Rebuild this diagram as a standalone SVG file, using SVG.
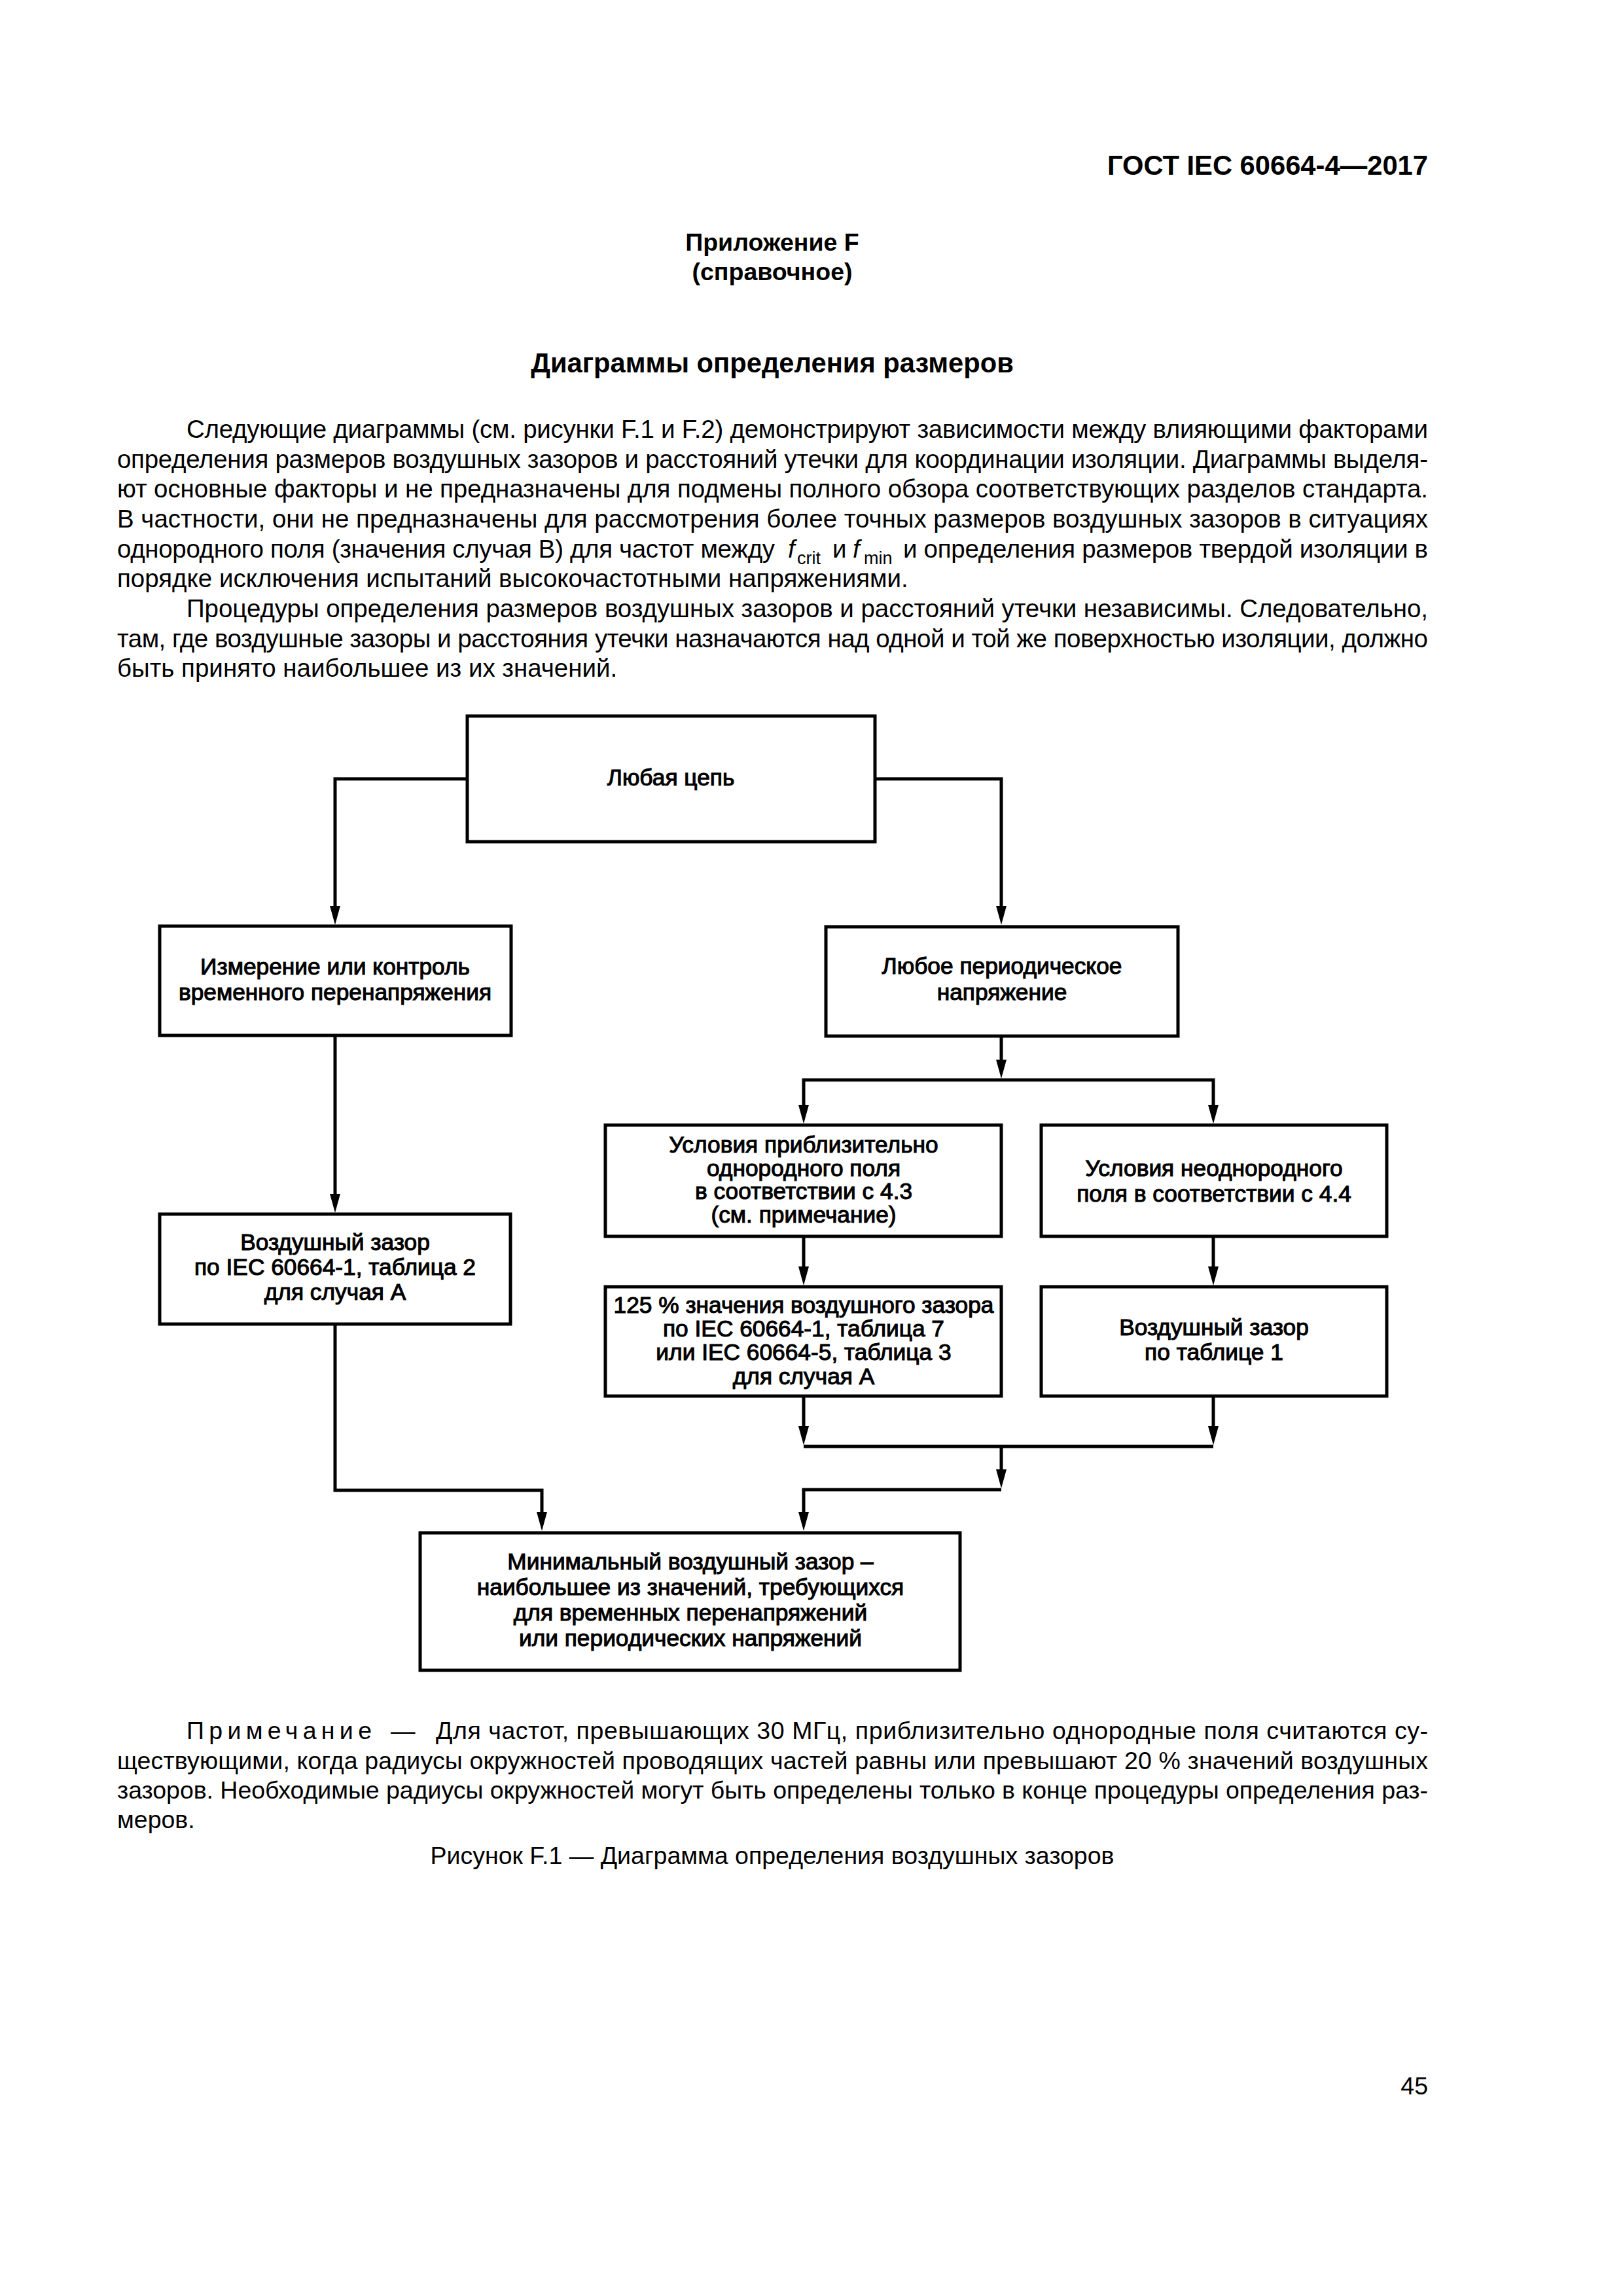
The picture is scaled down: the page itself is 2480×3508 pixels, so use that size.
<svg xmlns="http://www.w3.org/2000/svg" width="2480" height="3508" viewBox="0 0 2480 3508">
<style>
text{font-family:"Liberation Sans",Arial,sans-serif;fill:#000}
.hd{font-size:41.7px;font-weight:bold}
.ap{font-size:37.5px;font-weight:bold;text-anchor:middle}
.ti{font-size:41.7px;font-weight:bold;text-anchor:middle}
.bd{font-size:38.5px}
.sb{font-size:27px}
.nt{font-size:37.5px}
.bx{font-size:35.3px;text-anchor:middle;stroke:#000;stroke-width:1.1}
.box{fill:#fff;stroke:#000;stroke-width:5}
.ln{fill:none;stroke:#000;stroke-width:5}
.ah{fill:#000}
</style>
<rect width="2480" height="3508" fill="#fff"/>
<text class="hd" x="2182" y="267" text-anchor="end">ГОСТ IEC 60664-4—2017</text>
<text class="ap" x="1180" y="383">Приложение F</text>
<text class="ap" x="1180" y="428">(справочное)</text>
<text class="ti" x="1180" y="569">Диаграммы определения размеров</text>
<g id="body">
<text class="bd" x="285" y="669" textLength="1897" lengthAdjust="spacing">Следующие диаграммы (см. рисунки F.1 и F.2) демонстрируют зависимости между влияющими факторами</text>
<text class="bd" x="179" y="715" textLength="2003" lengthAdjust="spacing">определения размеров воздушных зазоров и расстояний утечки для координации изоляции. Диаграммы выделя-</text>
<text class="bd" x="179" y="760" textLength="2003" lengthAdjust="spacing">ют основные факторы и не предназначены для подмены полного обзора соответствующих разделов стандарта.</text>
<text class="bd" x="179" y="806" textLength="2003" lengthAdjust="spacing">В частности, они не предназначены для рассмотрения более точных размеров воздушных зазоров в ситуациях</text>
<text class="bd" x="179" y="852" textLength="1005" lengthAdjust="spacing">однородного поля (значения случая В) для частот между</text>
<text class="bd" x="1204" y="852" font-style="italic">f</text>
<text class="sb" x="1218" y="862">crit</text>
<text class="bd" x="1272" y="852">и</text>
<text class="bd" x="1303" y="852" font-style="italic">f</text>
<text class="sb" x="1320" y="862">min</text>
<text class="bd" x="1380" y="852" textLength="802" lengthAdjust="spacing">и определения размеров твердой изоляции в</text>
<text class="bd" x="179" y="897">порядке исключения испытаний высокочастотными напряжениями.</text>
<text class="bd" x="285" y="943" textLength="1897" lengthAdjust="spacing">Процедуры определения размеров воздушных зазоров и расстояний утечки независимы. Следовательно,</text>
<text class="bd" x="179" y="989" textLength="2003" lengthAdjust="spacing">там, где воздушные зазоры и расстояния утечки назначаются над одной и той же поверхностью изоляции, должно</text>
<text class="bd" x="179" y="1034">быть принято наибольшее из их значений.</text>
</g>
<g id="connectors">
<path class="ln" d="M714,1190 H512 V1386"/>
<polygon class="ah" points="504,1384 520,1384 512,1413"/>
<path class="ln" d="M1337,1190 H1530 V1386"/>
<polygon class="ah" points="1522,1384 1538,1384 1530,1413"/>
<path class="ln" d="M512,1582 V1826"/>
<polygon class="ah" points="504,1824 520,1824 512,1853"/>
<path class="ln" d="M1530,1583 V1621"/>
<polygon class="ah" points="1522,1619 1538,1619 1530,1648"/>
<path class="ln" d="M1228,1690 V1650 H1854 V1690"/>
<polygon class="ah" points="1220,1688 1236,1688 1228,1717"/>
<polygon class="ah" points="1846,1688 1862,1688 1854,1717"/>
<path class="ln" d="M1228,1889 V1937"/>
<polygon class="ah" points="1220,1935 1236,1935 1228,1964"/>
<path class="ln" d="M1854,1889 V1937"/>
<polygon class="ah" points="1846,1935 1862,1935 1854,1964"/>
<path class="ln" d="M1228,2133 V2181"/>
<polygon class="ah" points="1220,2179 1236,2179 1228,2208"/>
<path class="ln" d="M1854,2133 V2181"/>
<polygon class="ah" points="1846,2179 1862,2179 1854,2208"/>
<path class="ln" d="M1228,2210 H1854"/>
<path class="ln" d="M1530,2210 V2247"/>
<polygon class="ah" points="1522,2245 1538,2245 1530,2274"/>
<path class="ln" d="M1530,2276 H1228 V2312"/>
<polygon class="ah" points="1220,2310 1236,2310 1228,2339"/>
<path class="ln" d="M512,2023 V2277 H828 V2312"/>
<polygon class="ah" points="820,2310 836,2310 828,2339"/>
</g>
<g id="n1">
<rect class="box" x="714" y="1094" width="623" height="192"/>
<text class="bx" x="1025" y="1200">Любая цепь</text>
</g>
<g id="n2">
<rect class="box" x="244" y="1415" width="537" height="167"/>
<text class="bx" x="512" y="1489">Измерение или контроль</text>
<text class="bx" x="512" y="1528">временного перенапряжения</text>
</g>
<g id="n3">
<rect class="box" x="1262" y="1416" width="538" height="167"/>
<text class="bx" x="1531" y="1488">Любое периодическое</text>
<text class="bx" x="1531" y="1528">напряжение</text>
</g>
<g id="n4">
<rect class="box" x="925" y="1719" width="605" height="170"/>
<text class="bx" x="1228" y="1761">Условия приблизительно</text>
<text class="bx" x="1228" y="1797">однородного поля</text>
<text class="bx" x="1228" y="1832">в соответствии с 4.3</text>
<text class="bx" x="1228" y="1868">(см. примечание)</text>
</g>
<g id="n5">
<rect class="box" x="1591" y="1719" width="528" height="170"/>
<text class="bx" x="1855" y="1797">Условия неоднородного</text>
<text class="bx" x="1855" y="1836">поля в соответствии с 4.4</text>
</g>
<g id="n6">
<rect class="box" x="244" y="1855" width="536" height="168"/>
<text class="bx" x="512" y="1910">Воздушный зазор</text>
<text class="bx" x="512" y="1948">по IEC 60664-1, таблица 2</text>
<text class="bx" x="512" y="1986">для случая А</text>
</g>
<g id="n7">
<rect class="box" x="925" y="1966" width="605" height="167"/>
<text class="bx" x="1228" y="2006">125 % значения воздушного зазора</text>
<text class="bx" x="1228" y="2042">по IEC 60664-1, таблица 7</text>
<text class="bx" x="1228" y="2078">или IEC 60664-5, таблица 3</text>
<text class="bx" x="1228" y="2115">для случая А</text>
</g>
<g id="n8">
<rect class="box" x="1591" y="1966" width="528" height="167"/>
<text class="bx" x="1855" y="2040">Воздушный зазор</text>
<text class="bx" x="1855" y="2078">по таблице 1</text>
</g>
<g id="n9">
<rect class="box" x="642" y="2342" width="825" height="210"/>
<text class="bx" x="1055" y="2398">Минимальный воздушный зазор –</text>
<text class="bx" x="1055" y="2437">наибольшее из значений, требующихся</text>
<text class="bx" x="1055" y="2476">для временных перенапряжений</text>
<text class="bx" x="1055" y="2515">или периодических напряжений</text>
</g>
<g id="note">
<text class="nt" x="285" y="2657" textLength="283" lengthAdjust="spacing">Примечание</text>
<text class="nt" x="597" y="2657">—</text>
<text class="nt" x="666" y="2657" textLength="1516" lengthAdjust="spacing">Для частот, превышающих 30 МГц, приблизительно однородные поля считаются су-</text>
<text class="nt" x="179" y="2703" textLength="2003" lengthAdjust="spacing">ществующими, когда радиусы окружностей проводящих частей равны или превышают 20 % значений воздушных</text>
<text class="nt" x="179" y="2748" textLength="2003" lengthAdjust="spacing">зазоров. Необходимые радиусы окружностей могут быть определены только в конце процедуры определения раз-</text>
<text class="nt" x="179" y="2793">меров.</text>
<text class="nt" x="1180" y="2848" text-anchor="middle">Рисунок F.1 — Диаграмма определения воздушных зазоров</text>
</g>
<text class="nt" x="2182" y="3200" text-anchor="end">45</text>
</svg>
